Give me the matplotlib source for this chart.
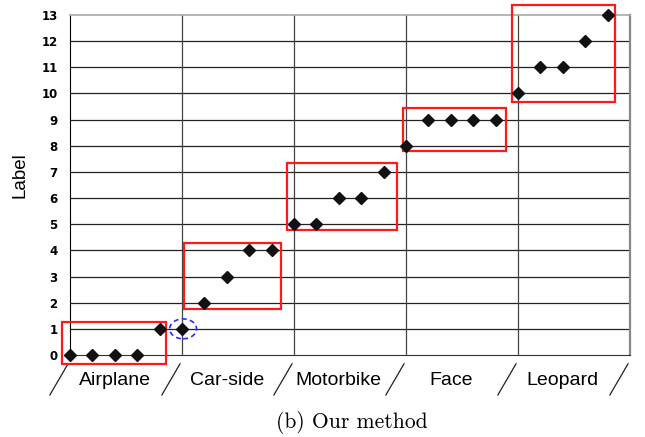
import matplotlib
matplotlib.use("Agg")
import matplotlib.pyplot as plt
from matplotlib.patches import Rectangle, Ellipse
import numpy as np

categories = ["Airplane", "Car-side", "Motorbike", "Face", "Leopard"]
labels = [0, 0, 0, 0, 1,
          1, 2, 3, 4, 4,
          5, 5, 6, 6, 7,
          8, 9, 9, 9, 9,
          10, 11, 11, 12, 13]
# highlight boxes (x0, x1, y0, y1) in data units
boxes = [(-0.36, 4.29, -0.34, 1.26),
         (5.09, 9.42, 1.76, 4.29),
         (9.70, 14.58, 4.78, 7.33),
         (14.85, 19.46, 7.80, 9.43),
         (19.73, 24.34, 9.67, 13.40)]
outlier_index = 5

fig = plt.figure(figsize=(6.45, 4.37), dpi=100)
ax = fig.add_axes([70/645, 1-355/437, 560/645, 340/437])

x = np.arange(len(labels))
ax.set_xlim(0, 25)
ax.set_ylim(0, 13)

# grid
for yv in range(1, 13):
    ax.axhline(yv, color="#222222", lw=0.9, zorder=1)
for xv in (5, 10, 15, 20):
    ax.axvline(xv, color="#444444", lw=0.9, zorder=1)

ax.plot(x, labels, linestyle="none", marker="D", color="#111111",
        markersize=6.0, clip_on=False, zorder=5)

for (x0, x1, y0, y1) in boxes:
    ax.add_patch(Rectangle((x0, y0), x1 - x0, y1 - y0, fill=False,
                           edgecolor="#ff1a1a", lw=1.6, clip_on=False, zorder=4))

ax.add_patch(Ellipse((outlier_index + 0.05, labels[outlier_index]), 1.2, 0.76,
                     fill=False, edgecolor="#2a2aff", lw=1.2, ls=(0, (3, 2)),
                     clip_on=False, zorder=4))

# spines
ax.spines["left"].set_color("#000000")
ax.spines["bottom"].set_color("#333333")
ax.spines["top"].set_color("#aaaaaa")
ax.spines["right"].set_color("#888888")
ax.spines["right"].set_linewidth(1.6)
ax.spines["top"].set_linewidth(1.2)

ax.set_yticks(range(0, 14))
ax.set_yticklabels([str(v) for v in range(0, 14)], fontsize=8.5,
                   fontweight="heavy", family="DejaVu Sans")
ax.tick_params(axis="y", length=0, pad=9)
ax.set_xticks([])

ax.set_ylabel("Label", fontsize=13.5, family="Liberation Sans")
ax.yaxis.set_label_coords(-0.074, 0.53)

# category labels and slashes
for k, cat in enumerate(categories):
    ax.text(5 * k + 2.0, -0.98, cat, ha="center", va="center",
            fontsize=14, family="Liberation Sans", clip_on=False)
for b in range(0, 26, 5):
    ax.plot([b - 0.9, b - 0.09], [-1.53, -0.34], color="#222222", lw=0.9,
            clip_on=False)

fig.text(352/645, 1 - 423/437, "(b) Our method", ha="center", va="center",
         fontsize=15.5, family="cmr10")

fig.savefig("out.png", dpi=100)
